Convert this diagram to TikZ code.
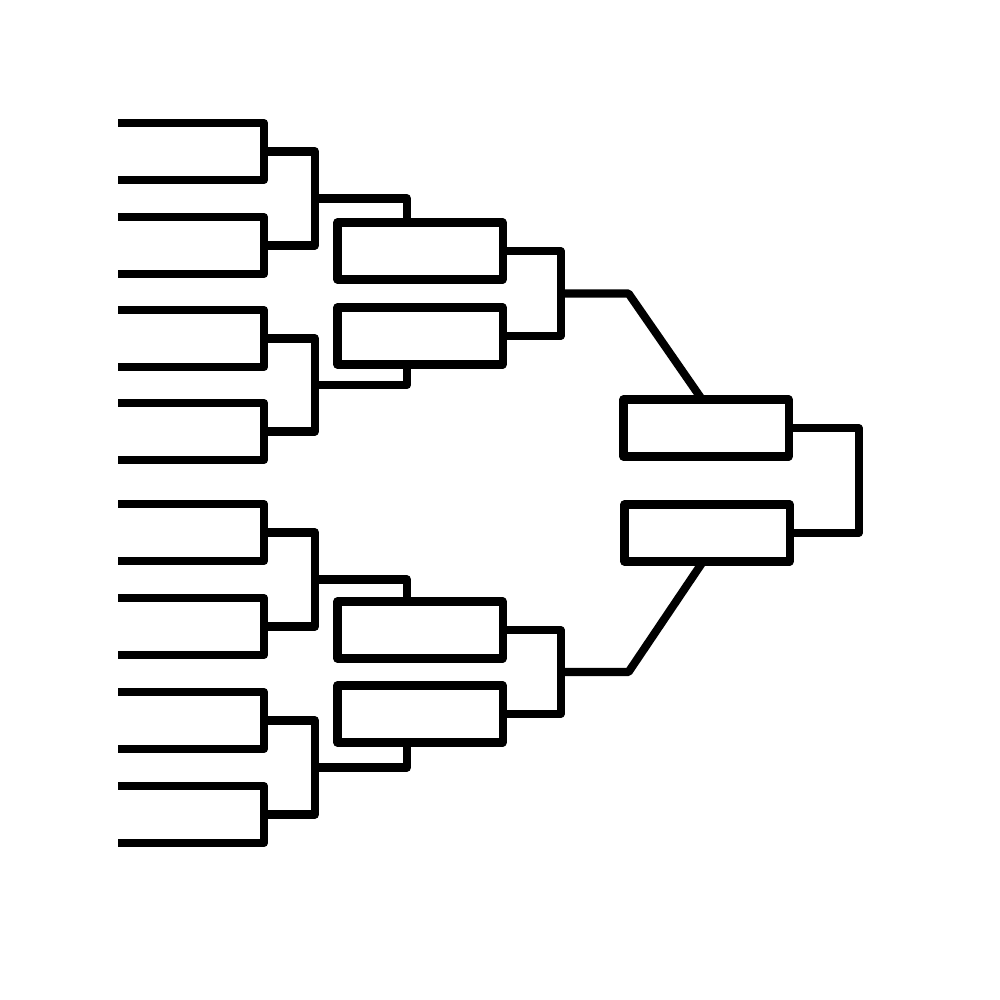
\documentclass[tikz,border=0pt]{standalone}
\usetikzlibrary{calc}

\tikzset{
  wire/.style={line width=2.3pt, line join=round},
  slot/.style={draw, rectangle, line width=2.3pt, line join=round, inner sep=0pt,
    outer sep=0pt, minimum width=1.65cm, minimum height=0.57cm},
}

\begin{document}
\begin{tikzpicture}[x=0.01cm, y=-0.01cm]
  \useasboundingbox (0,0) rectangle (1000,1000);

  % first round
  \foreach \t [count=\k] in {123,217,310,403,504,598,692,786} {
    \draw[wire] (118,\t) -- (264,\t) -- (264,\t+57) -- (118,\t+57);
    \coordinate (b\k) at (264,\t+28.5);
  }

  % second round
  \node[slot] (r2a) at (420,251) {};
  \node[slot] (r2b) at (420,336) {};
  \node[slot] (r3a) at (420,630) {};
  \node[slot] (r3b) at (420,714) {};

  \foreach \a/\b/\slotname/\side in {1/2/r2a/north, 3/4/r2b/south, 5/6/r3a/north, 7/8/r3b/south} {
    \draw[wire] (b\a) -- ++(51,0) |- (b\b);
    \coordinate (j\a) at ($(b\a)!0.5!(b\b)+(51,0)$);
    \draw[wire] (j\a) -| ($(\slotname.\side)+(-13,0)$);
  }

  % final
  \node[slot] (fa) at (706,428) {};
  \node[slot] (fb) at (707,533) {};

  \draw[wire] (r2a.east) -- ++(58,0) |- (r2b.east);
  \coordinate (s1) at ($(r2a.east)!0.5!(r2b.east)+(58,0)$);
  \draw[wire] (s1) -- ++(68,0) -- ($(fa.north)+(-4,0)$);

  \draw[wire] (r3a.east) -- ++(58,0) |- (r3b.east);
  \coordinate (s2) at ($(r3a.east)!0.5!(r3b.east)+(58,0)$);
  \draw[wire] (s2) -- ++(68,0) -- ($(fb.south)+(-4,0)$);

  \draw[wire] (fa.east) -- ++(70,0) |- (fb.east);
\end{tikzpicture}
\end{document}
